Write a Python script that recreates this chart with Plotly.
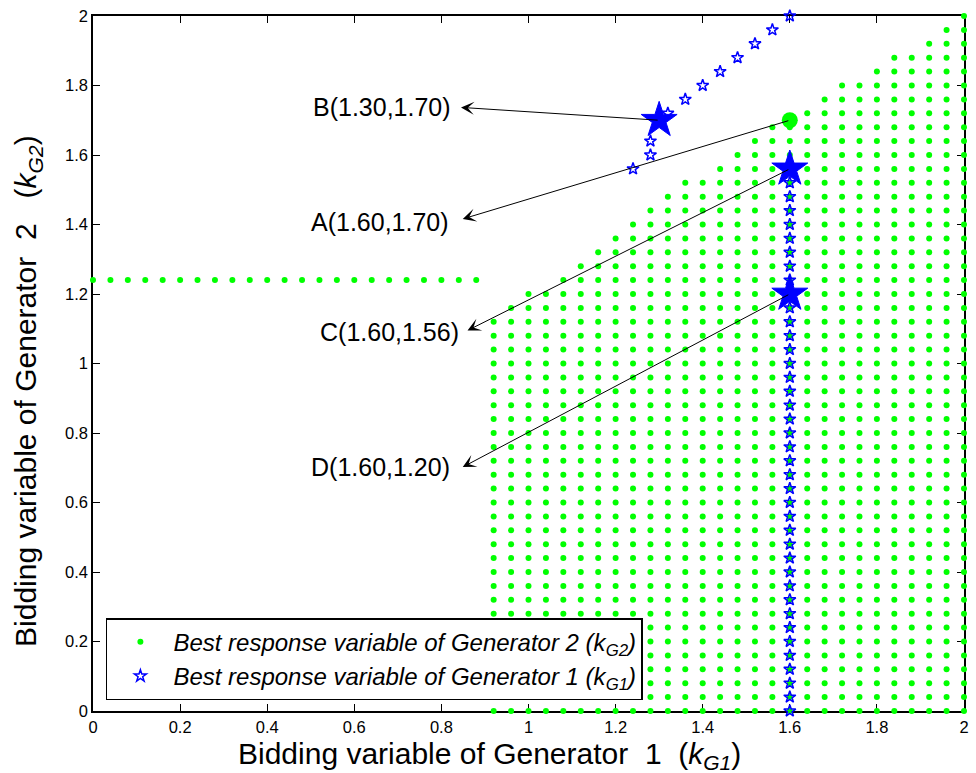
import plotly.graph_objects as go

# Grid levels used by the discretised bidding variables
levels = [0.00, 0.04, 0.08, 0.12, 0.16, 0.20, 0.24, 0.28, 0.32, 0.36,
          0.40, 0.44, 0.48, 0.52, 0.56, 0.60, 0.64, 0.68, 0.72, 0.76,
          0.80, 0.84, 0.88, 0.92, 0.96, 1.00, 1.04, 1.08, 1.12, 1.16,
          1.20, 1.24, 1.28, 1.32, 1.36, 1.40, 1.44, 1.48, 1.52, 1.56,
          1.60, 1.64, 1.68, 1.72, 1.76, 1.80, 1.84, 1.88, 1.92, 1.96, 2.00]

# Best response region of Generator 2: each column filled from 0 up to its top value
g2_col_x = [0.92, 0.96, 1.00, 1.04, 1.08, 1.12, 1.16, 1.20, 1.24, 1.28,
            1.32, 1.36, 1.40, 1.44, 1.48, 1.52, 1.56, 1.60, 1.64, 1.68,
            1.72, 1.76, 1.80, 1.84, 1.88, 1.92, 1.96, 2.00]
g2_col_top = [1.12, 1.16, 1.20, 1.20, 1.24, 1.28, 1.32, 1.36, 1.40, 1.44,
              1.48, 1.52, 1.52, 1.56, 1.60, 1.64, 1.68, 1.68, 1.72, 1.76,
              1.80, 1.80, 1.84, 1.88, 1.88, 1.92, 1.96, 2.00]
# Flat branch of Generator 2's best response
g2_row_x = [0.00, 0.04, 0.08, 0.12, 0.16, 0.20, 0.24, 0.28, 0.32, 0.36,
            0.40, 0.44, 0.48, 0.52, 0.56, 0.60, 0.64, 0.68, 0.72, 0.76,
            0.80, 0.84, 0.88]
g2_row_y = 1.24

# Best response of Generator 1: vertical branch at k_G1 = 1.60, then a diagonal branch
g1_col_x = 1.60
g1_col_top = 1.52
g1_diag_x = [1.24, 1.28, 1.28, 1.32, 1.36, 1.40, 1.44, 1.48, 1.52, 1.56, 1.60]
g1_diag_y = [1.56, 1.60, 1.64, 1.72, 1.76, 1.80, 1.84, 1.88, 1.92, 1.96, 2.00]

# Highlighted points
pt_names = ["A", "B", "C", "D"]
pt_x = [1.60, 1.30, 1.60, 1.60]
pt_y = [1.70, 1.70, 1.56, 1.20]

# Label placement (right end of text) and arrow heads, in axis units
lab_x = [0.821, 0.826, 0.844, 0.824]
lab_y = [1.408, 1.739, 1.092, 0.701]
head_x = [0.849, 0.845, 0.860, 0.849]
head_y = [1.416, 1.737, 1.095, 0.702]

x_ticks = [0, 0.2, 0.4, 0.6, 0.8, 1.0, 1.2, 1.4, 1.6, 1.8, 2.0]
x_tick_text = ["0", "0.2", "0.4", "0.6", "0.8", "1", "1.2", "1.4", "1.6", "1.8", "2"]
y_ticks = x_ticks
y_tick_text = x_tick_text

GREEN = "#00ff00"
BLUE = "#0000ff"
FONT = "Liberation Sans, Arial, Helvetica, sans-serif"

# Expand the columns into individual grid points
g2_x, g2_y = [], []
for cx, top in zip(g2_col_x, g2_col_top):
    for lv in levels:
        if lv <= top + 1e-9:
            g2_x.append(cx)
            g2_y.append(lv)
g2_x += g2_row_x
g2_y += [g2_row_y] * len(g2_row_x)

g1_x = [g1_col_x for lv in levels if lv <= g1_col_top + 1e-9]
g1_y = [lv for lv in levels if lv <= g1_col_top + 1e-9]
g1_x += g1_diag_x
g1_y += g1_diag_y

fig = go.Figure()

fig.add_trace(go.Scatter(
    x=g2_x, y=g2_y, mode="markers", cliponaxis=False,
    marker=dict(symbol="circle", size=6, color=GREEN, line=dict(width=0)),
    name="Best response variable of Generator 2 (k<sub>G2</sub>)",
    legendgroup="g2",
))
fig.add_trace(go.Scatter(
    x=g1_x, y=g1_y, mode="markers", cliponaxis=False,
    marker=dict(symbol="star-open", size=9, color=BLUE, line=dict(width=1.5, color=BLUE)),
    name="Best response variable of Generator 1 (k<sub>G1</sub>)",
    legendgroup="g1",
))

# Point A (green) and the starred points B, C, D
fig.add_trace(go.Scatter(
    x=[pt_x[0]], y=[pt_y[0]], mode="markers", cliponaxis=False, showlegend=False,
    marker=dict(symbol="circle", size=16, color=GREEN, line=dict(width=0)),
))
fig.add_trace(go.Scatter(
    x=pt_x[1:], y=pt_y[1:], mode="markers", cliponaxis=False, showlegend=False,
    marker=dict(symbol="star", size=27, color=BLUE, line=dict(width=1, color=BLUE)),
))

annotations = []
for name, px, py, lx, ly, hx, hy in zip(pt_names, pt_x, pt_y, lab_x, lab_y, head_x, head_y):
    annotations.append(dict(
        x=hx, y=hy, ax=px, ay=py, xref="x", yref="y", axref="x", ayref="y",
        text="", showarrow=True, arrowhead=3, arrowsize=2.2, arrowwidth=1,
        arrowcolor="black", standoff=0, startstandoff=0,
    ))
    annotations.append(dict(
        x=lx, y=ly, xref="x", yref="y", showarrow=False,
        text=f"{name}({px:.2f},{py:.2f})", xanchor="right", yanchor="middle",
        font=dict(family=FONT, size=25, color="black"),
    ))

# Axis titles
annotations.append(dict(
    x=0.4555, y=-0.064, xref="paper", yref="paper", showarrow=False,
    xanchor="center", yanchor="middle",
    text="Bidding variable of Generator\u00a0\u00a01\u00a0\u00a0(<i>k<sub>G1</sub></i>)",
    font=dict(family=FONT, size=30, color="black"),
))
annotations.append(dict(
    x=-0.075, y=0.46, xref="paper", yref="paper", showarrow=False,
    xanchor="center", yanchor="middle", textangle=-90,
    text="Bidding variable of Generator\u00a0\u00a02\u00a0\u00a0\u00a0(<i>k<sub>G2</sub></i>)",
    font=dict(family=FONT, size=30, color="black"),
))

axis_common = dict(
    range=[0, 2], showgrid=False, zeroline=False,
    showline=True, linecolor="black", linewidth=1.5, mirror="allticks",
    ticks="inside", ticklen=7, tickcolor="black", tickwidth=1,
    tickfont=dict(family=FONT, size=16.5, color="black"),
    layer="below traces",
)

fig.update_layout(
    width=976, height=773,
    margin=dict(l=93, r=7, t=15, b=62),
    paper_bgcolor="white", plot_bgcolor="white",
    xaxis=dict(**axis_common, tickvals=x_ticks, ticktext=x_tick_text),
    yaxis=dict(**axis_common, tickvals=y_ticks, ticktext=y_tick_text),
    legend=dict(
        x=0.0148, y=0.1336, xanchor="left", yanchor="top",
        bgcolor="white", bordercolor="black", borderwidth=1.5,
        font=dict(family=FONT, size=24, color="black", style="italic"),
        traceorder="grouped", tracegroupgap=0, itemwidth=56,
    ),
    annotations=annotations,
    showlegend=True,
)

fig.write_html("out.html")
